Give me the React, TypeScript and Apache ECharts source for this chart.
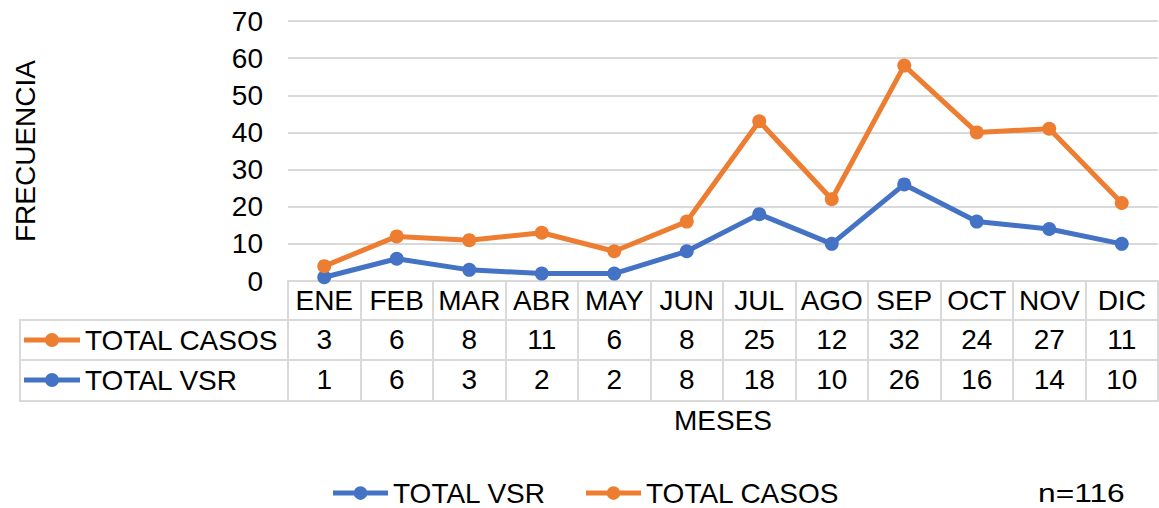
import React, { useEffect, useRef } from "react";
import * as echarts from "echarts";

const months = ["ENE", "FEB", "MAR", "ABR", "MAY", "JUN", "JUL", "AGO", "SEP", "OCT", "NOV", "DIC"];
const totalVsr = [1, 6, 3, 2, 2, 8, 18, 10, 26, 16, 14, 10];
const totalCasos = [3, 6, 8, 11, 6, 8, 25, 12, 32, 24, 27, 11];
const yTicks = { min: 0, max: 70, interval: 10 };
const noteText = "n=116";

const FONT = "'Liberation Sans', Arial, sans-serif";
const FS = 28;
const GRID_COLOR = "#d9d9d9";
const BLUE = "#4472C4";
const ORANGE = "#ED7D31";
const LEGEND_ICON =
  "path://M0,6.5 L22,6.5 L22,11.5 L0,11.5 Z M34,6.5 L56,6.5 L56,11.5 L34,11.5 Z M21,9 A7,7 0 1,1 35,9 A7,7 0 1,1 21,9 Z";

export default function App() {
  const ref = useRef<HTMLDivElement>(null);

  useEffect(() => {
    if (!ref.current) return;
    const chart = echarts.init(ref.current, undefined, { renderer: "svg" });

    const tableAxis = (data: (string | number)[], offset: number, tickLen: number) => ({
      type: "category",
      position: "bottom",
      offset,
      data: data.map(String),
      boundaryGap: true,
      axisLine: { show: true, lineStyle: { color: GRID_COLOR, width: 2 } },
      axisTick: { show: true, interval: 0, length: tickLen, lineStyle: { color: GRID_COLOR, width: 2 } },
      axisLabel: { show: true, interval: 0, margin: 5, fontSize: FS, color: "#000", fontFamily: FONT },
      splitLine: { show: false },
    });

    const lineStyleBorder = { stroke: GRID_COLOR, lineWidth: 2 };
    const legendText = { fontSize: FS, color: "#000", fontFamily: FONT };

    chart.setOption({
      animation: false,
      backgroundColor: "#fff",
      textStyle: { fontFamily: FONT },
      grid: { left: 288, right: 1, top: 21, bottom: 227, containLabel: false },
      legend: [
        {
          data: ["TOTAL VSR", "TOTAL CASOS"],
          orient: "horizontal",
          left: 333,
          top: 479,
          padding: 0,
          itemGap: 40,
          itemWidth: 55,
          itemHeight: 14,
          icon: LEGEND_ICON,
          selectedMode: false,
          textStyle: legendText,
        },
        {
          data: ["TOTAL CASOS", "TOTAL VSR"],
          orient: "vertical",
          left: 24,
          top: 326,
          padding: 0,
          itemGap: 12,
          itemWidth: 56,
          itemHeight: 14,
          icon: LEGEND_ICON,
          selectedMode: false,
          textStyle: legendText,
        },
      ],
      xAxis: [
        tableAxis(months, 0, 39),
        tableAxis(totalCasos, 39, 40),
        tableAxis(totalVsr, 79, 41),
        {
          type: "category",
          position: "bottom",
          offset: 120,
          data: months,
          boundaryGap: true,
          axisLine: { show: true, lineStyle: { color: GRID_COLOR, width: 2 } },
          axisTick: { show: false },
          axisLabel: { show: false },
          name: "MESES",
          nameLocation: "middle",
          nameGap: 5,
          nameTextStyle: { fontSize: FS, color: "#000", fontFamily: FONT, verticalAlign: "top" },
        },
      ],
      yAxis: {
        type: "value",
        min: yTicks.min,
        max: yTicks.max,
        interval: yTicks.interval,
        name: "FRECUENCIA",
        nameLocation: "middle",
        nameRotate: 90,
        nameGap: 249,
        nameTextStyle: { fontSize: FS, color: "#000", fontFamily: FONT },
        axisLine: { show: false },
        axisTick: { show: false },
        axisLabel: { margin: 25, fontSize: FS, color: "#000", fontFamily: FONT },
        splitLine: { show: true, lineStyle: { color: GRID_COLOR, width: 2 } },
      },
      series: [
        {
          name: "TOTAL VSR",
          type: "line",
          stack: "total",
          data: totalVsr,
          symbol: "circle",
          symbolSize: 14,
          lineStyle: { width: 5, color: BLUE },
          itemStyle: { color: BLUE },
          z: 3,
        },
        {
          name: "TOTAL CASOS",
          type: "line",
          stack: "total",
          data: totalCasos,
          symbol: "circle",
          symbolSize: 14,
          lineStyle: { width: 5, color: ORANGE },
          itemStyle: { color: ORANGE },
          z: 4,
        },
      ],
      graphic: [
        { type: "line", shape: { x1: 20, y1: 320, x2: 289, y2: 320 }, style: lineStyleBorder, silent: true },
        { type: "line", shape: { x1: 20, y1: 360, x2: 289, y2: 360 }, style: lineStyleBorder, silent: true },
        { type: "line", shape: { x1: 20, y1: 401, x2: 289, y2: 401 }, style: lineStyleBorder, silent: true },
        { type: "line", shape: { x1: 20, y1: 319, x2: 20, y2: 402 }, style: lineStyleBorder, silent: true },
        {
          type: "text",
          x: 1038,
          y: 480,
          scaleX: 1.22,
          style: { text: noteText, fontSize: 26, fill: "#000", fontFamily: FONT },
        },
      ],
    });

    return () => chart.dispose();
  }, []);

  return (
    <div
      ref={ref}
      style={{ position: "fixed", left: 0, top: 0, width: 1159, height: 508, background: "#fff" }}
    />
  );
}
